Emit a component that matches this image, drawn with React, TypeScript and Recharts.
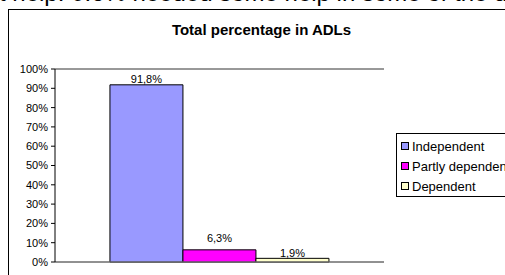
import React from "react"
import {
  BarChart,
  Bar,
  XAxis,
  YAxis,
  CartesianGrid,
  Legend,
  LabelList,
} from "recharts"

const categories = [""]
const seriesNames = ["Independent", "Partly dependent", "Dependent"]
const independent = [91.8]
const partlyDependent = [6.3]
const dependent = [1.9]
const yTicks = [0, 10, 20, 30, 40, 50, 60, 70, 80, 90, 100]

const data = categories.map((name, i) => ({
  name,
  independent: independent[i],
  partly: partlyDependent[i],
  dependent: dependent[i],
}))

const FONT = "'Liberation Sans', Arial, sans-serif"

const fmt = (v: any) => Number(v).toFixed(1).replace(".", ",") + "%"

// keep the legend in series order, not alphabetical
const LegendBox = ({ payload }: any) => {
  const items = [...(payload || [])].sort(
    (a: any, b: any) => seriesNames.indexOf(a.value) - seriesNames.indexOf(b.value)
  )
  return (
    <div
      style={{
        border: "1px solid #000",
        background: "#fff",
        padding: "2px 0 0 4px",
        width: 200,
        height: 60,
        fontFamily: FONT,
        fontSize: 13,
        color: "#000",
      }}
    >
      {items.map((entry: any) => (
        <div
          key={entry.value}
          style={{ height: 20, display: "flex", alignItems: "center" }}
        >
          <span
            style={{
              display: "inline-block",
              width: 6,
              height: 6,
              border: "1px solid #000",
              background: entry.color,
              marginRight: 3,
            }}
          />
          <span style={{ whiteSpace: "nowrap" }}>{entry.value}</span>
        </div>
      ))}
    </div>
  )
}

const App = () => {
  return (
    <div
      style={{
        position: "fixed",
        left: 0,
        top: 0,
        width: 505,
        height: 275,
        overflow: "hidden",
        background: "#fff",
        fontFamily: FONT,
      }}
    >
      <div
        style={{
          position: "absolute",
          left: -1,
          top: -19,
          fontSize: 24,
          lineHeight: "24px",
          whiteSpace: "nowrap",
          color: "#000",
        }}
      >
        t help: 0.6% needed some help in some of the daily activities
      </div>
      <div
        style={{
          position: "absolute",
          left: 8,
          top: 9,
          width: 700,
          height: 400,
          border: "1px solid #000",
        }}
      />
      <div
        style={{
          position: "absolute",
          left: 0,
          top: 21,
          width: 523,
          textAlign: "center",
          fontWeight: "bold",
          fontSize: 15,
          color: "#000",
        }}
      >
        Total percentage in ADLs
      </div>
      <div style={{ position: "absolute", left: 0, top: 0 }}>
        <BarChart
          width={505}
          height={275}
          data={data}
          margin={{ top: 69, right: 121, bottom: 12, left: 0 }}
          barCategoryGap="16.7%"
          barGap={0}
        >
          <CartesianGrid vertical={false} stroke="#333" strokeOpacity={1} />
          <XAxis
            dataKey="name"
            height={1}
            tick={false}
            tickLine={false}
            axisLine={{ stroke: "#888" }}
          />
          <YAxis
            yAxisId="left"
            width={55}
            domain={[0, 100]}
            ticks={yTicks}
            interval={0}
            tickFormatter={(v) => v + "%"}
            tickSize={4}
            tickMargin={3}
            tick={{ fill: "#000", fontSize: 11, fontFamily: FONT }}
            axisLine={{ stroke: "#000" }}
            tickLine={{ stroke: "#000" }}
          />
          <YAxis
            yAxisId="right"
            orientation="right"
            width={0}
            domain={[0, 100]}
            tick={false}
            tickLine={false}
            axisLine={{ stroke: "#a0a0a0" }}
          />
          <Legend
            layout="vertical"
            align="center"
            verticalAlign="middle"
            content={<LegendBox />}
            wrapperStyle={{ left: 396, top: 133, width: 210 }}
          />
          <Bar
            yAxisId="left"
            dataKey="independent"
            name={seriesNames[0]}
            fill="#9999ff"
            stroke="#000"
            strokeWidth={1}
            isAnimationActive={false}
          >
            <LabelList
              dataKey="independent"
              position="top"
              offset={2}
              formatter={fmt}
              style={{ fill: "#000", fontSize: 11, fontFamily: FONT }}
            />
          </Bar>
          <Bar
            yAxisId="left"
            dataKey="partly"
            name={seriesNames[1]}
            fill="#ff00ff"
            stroke="#000"
            strokeWidth={1}
            isAnimationActive={false}
          >
            <LabelList
              dataKey="partly"
              position="top"
              offset={8}
              formatter={fmt}
              style={{ fill: "#000", fontSize: 11, fontFamily: FONT }}
            />
          </Bar>
          <Bar
            yAxisId="left"
            dataKey="dependent"
            name={seriesNames[2]}
            fill="#ffffcc"
            stroke="#000"
            strokeWidth={1}
            isAnimationActive={false}
          >
            <LabelList
              dataKey="dependent"
              position="top"
              offset={1.5}
              formatter={fmt}
              style={{ fill: "#000", fontSize: 11, fontFamily: FONT }}
            />
          </Bar>
        </BarChart>
      </div>
    </div>
  )
}

export default App
